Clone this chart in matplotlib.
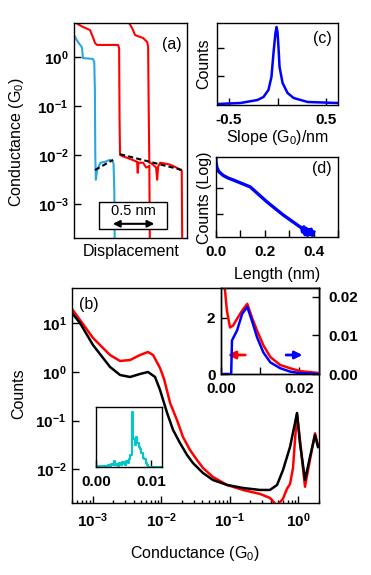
import matplotlib
matplotlib.use('Agg')
import matplotlib.pyplot as plt
import numpy as np
from matplotlib.ticker import NullLocator, LogLocator
from matplotlib.patches import Rectangle

plt.rcParams['font.family'] = ['Liberation Sans', 'DejaVu Sans']
plt.rcParams['font.weight'] = 'bold'
plt.rcParams['font.size'] = 11
plt.rcParams['mathtext.default'] = 'regular'
plt.rcParams['axes.linewidth'] = 1.0
plt.rcParams['xtick.direction'] = 'in'
plt.rcParams['ytick.direction'] = 'in'

RED = '#ff0000'
SKY = '#2aa7e0'
BLUE = '#0000ff'
TEAL = '#00c8c8'
LAB = 11.5

# --- (a) 個別トレース (nm, G0) ---
blue_x = [0.01, 0.03, 0.085, 0.095, 0.20, 0.215, 0.222, 0.226, 0.232, 0.245, 0.28, 0.33, 0.38, 0.41, 0.42, 0.428, 0.433]
blue_y = [2.6, 2.2, 1.55, 0.95, 0.91, 0.79, 0.2, 0.01, 0.0031, 0.0048, 0.0069, 0.0072, 0.0079, 0.0074, 0.0066, 0.002, 1e-4]
red1_x = [0.0, 0.04, 0.096, 0.17, 0.20, 0.223, 0.245, 0.40, 0.468, 0.479, 0.484, 0.489, 0.52, 0.564, 0.62,
          0.67, 0.677, 0.684, 0.69, 0.734, 0.766, 0.787, 0.80, 0.806]
red1_y = [5.5, 4.7, 4.1, 3.55, 2.56, 1.93, 1.76, 1.76, 1.76, 1.53, 0.05, 0.0100, 0.0093, 0.0087, 0.0079,
          0.0072, 0.0043, 0.0070, 0.0069, 0.0069, 0.0055, 0.0057, 0.006, 1e-4]
red2_x = [0.57, 0.617, 0.649, 0.702, 0.734, 0.777, 0.787, 0.793, 0.80, 0.809, 0.84, 0.872, 0.883, 0.894,
          0.915, 0.97, 1.02, 1.096, 1.128, 1.144, 1.15]
red2_y = [5.5, 3.9, 2.8, 2.56, 2.44, 2.02, 1.6, 0.1, 0.0069, 0.0069, 0.0063, 0.0055, 0.0031, 0.0058,
          0.0069, 0.0066, 0.0063, 0.0054, 0.0049, 0.0048, 1e-4]
fitb_x = [0.223, 0.415]
fitb_y = [0.0049, 0.0079]
fitr_x = [0.489, 1.149]
fitr_y = [0.0103, 0.0049]

# --- (b) ヒストグラム ---
blk_G = [4.99e-4, 6.53e-4, 1.01e-3, 1.79e-3, 2.51e-3, 3.51e-3, 4.91e-3, 6.41e-3, 8.13e-3, 9.6e-3,
         0.0122, 0.0149, 0.0188, 0.0238, 0.0291, 0.0407, 0.057, 0.0914, 0.156, 0.277, 0.387, 0.491,
         0.6, 0.759, 0.897, 0.96, 1.06, 1.256, 1.486, 1.758, 1.945]
blk_C = [16.3, 10.1, 3.58, 1.27, 0.867, 0.789, 0.91, 1.0, 0.79, 0.43,
         0.144, 0.0644, 0.0348, 0.0198, 0.0135, 0.00843, 0.00605, 0.00479, 0.00415, 0.00378, 0.00378, 0.00479,
         0.00973, 0.0288, 0.0897, 0.144, 0.0348, 0.00605, 0.018, 0.0508, 0.0288]
red_G = [4.99e-4, 6.53e-4, 1.01e-3, 1.79e-3, 2.51e-3, 3.51e-3, 4.91e-3, 6.41e-3, 7.62e-3, 9.6e-3,
         0.011, 0.0135, 0.017, 0.0208, 0.0263, 0.0333, 0.0407, 0.057, 0.0914, 0.156, 0.277, 0.387, 0.491,
         0.6, 0.685, 0.759, 0.839, 0.897, 0.96, 1.06, 1.256, 1.486, 1.758, 1.945]
red_C = [19.7, 11.7, 5.0, 2.23, 1.68, 1.76, 2.23, 2.57, 2.23, 1.21,
         0.72, 0.23, 0.103, 0.0462, 0.025, 0.0156, 0.0107, 0.00698, 0.00479, 0.00378, 0.00313, 0.00259, 0.0018,
         0.0025, 0.0040, 0.005, 0.0107, 0.04, 0.138, 0.04, 0.0044, 0.016, 0.055, 0.03]

# inset: 線形スケール
ins_red_x = [0.0006, 0.0015, 0.0023, 0.0031, 0.0041, 0.0054, 0.0067, 0.0079, 0.0092, 0.0108, 0.0126,
             0.0151, 0.0177, 0.0203, 0.0246]
ins_red_y = [3.6, 2.25, 1.65, 1.72, 1.96, 2.25, 2.49, 2.0, 1.54, 1.02, 0.6, 0.32, 0.2, 0.1, 0.04]
ins_blue_x = [0.0, 0.0026, 0.0028, 0.0041, 0.0054, 0.0067, 0.0079, 0.0092, 0.0108, 0.0126, 0.0151,
              0.0177, 0.0203, 0.025]
ins_blue_y = [0.0, 0.0, 0.0087, 0.0113, 0.0156, 0.0174, 0.0138, 0.0095, 0.0056, 0.003, 0.0015,
              0.0006, 0.0002, 0.0]

# inset: 長さ分布 (teal)
hist_w = 0.00025
hist_h = [1, 0, 1, 0, 1, 0, 1, 0, 1, 2, 1, 3, 2, 6, 2, 3, 1, 4, 2, 5, 3, 2, 6, 4, 8, 12, 55, 28, 22, 30,
          24, 20, 18, 14, 9, 8, 4, 2, 0, 0, 0, 0, 0, 0, 0, 0, 0, 0]

# --- (c) slope ---
slope_x = [-0.62, -0.38, -0.206, -0.144, -0.093, -0.062, -0.041, -0.021, -0.01, 0.0, 0.01, 0.021,
           0.052, 0.103, 0.165, 0.31, 0.62]
slope_y = [35, 70, 175, 280, 526, 982, 1825, 2526, 2737, 2561, 2035, 1333, 772, 421, 246, 105, 70]

# --- (d) length ---
len_x = [0.0, 0.0, 0.004, 0.012, 0.03, 0.05, 0.07, 0.14, 0.209, 0.275, 0.344, 0.35, 0.355, 0.36, 0.365,
         0.37, 0.375, 0.38, 0.385, 0.39, 0.395, 0.40]
len_y = [1400, 1000, 600, 420, 300, 240, 204, 110, 29, 9.2, 3.2, 3.0, 2.0, 3.2, 1.6, 2.8, 1.5, 2.5, 1.6,
         2.6, 1.5, 2.0]


def style(ax):
    ax.tick_params(which='major', length=5, width=1, pad=4)
    ax.tick_params(which='minor', length=2.5, width=1)


fig = plt.figure(figsize=(3.71, 5.75), dpi=100)
W, H = 371.0, 575.0


def box(l, t, r, b):
    return [l / W, 1 - b / H, (r - l) / W, (b - t) / H]


# (a)
axA = fig.add_axes(box(74, 23, 187, 238))
axA.set_yscale('log')
axA.plot(red1_x, red1_y, color=RED, lw=1.5)
axA.plot(red2_x, red2_y, color=RED, lw=1.5)
axA.plot(blue_x, blue_y, color=SKY, lw=1.5)
axA.plot(fitb_x, fitb_y, color='k', lw=1.5, ls=(0, (2.5, 1.5)))
axA.plot(fitr_x, fitr_y, color='k', lw=1.5, ls=(0, (2.5, 1.5)))
axA.set_xlim(0, 1.2)
axA.set_ylim(2.0e-4, 4.94)
axA.set_yticks([1e-3, 1e-2, 1e-1, 1])
axA.yaxis.set_minor_locator(NullLocator())
axA.set_xticks([])
style(axA)
axA.set_ylabel('Conductance (G$_0$)', fontweight='normal', fontsize=LAB)
axA.yaxis.set_label_coords(-0.425, 0.447)
axA.set_xlabel('Displacement', fontweight='normal', fontsize=LAB)
axA.xaxis.set_label_coords(0.504, -0.028)
axA.text(0.867, 0.902, '(a)', transform=axA.transAxes, ha='center', va='center',
         fontweight='normal', fontsize=LAB)
axA.add_patch(Rectangle((0.221, 0.042), 0.602, 0.125, transform=axA.transAxes,
                        facecolor='white', edgecolor='k', lw=1.0, zorder=5))
axA.text(0.522, 0.125, '0.5 nm', transform=axA.transAxes, ha='center', va='center',
         fontweight='normal', fontsize=LAB - 1, zorder=6)
axA.annotate('', xy=(0.883, 0.066), xytext=(0.383, 0.066), xycoords=axA.get_xaxis_transform(),
             arrowprops=dict(arrowstyle='<|-|>', color='k', lw=1.5, mutation_scale=10), zorder=6)

# (c)
axC = fig.add_axes(box(217, 23, 338, 105))
axC.plot(slope_x, slope_y, color=BLUE, lw=1.8)
axC.set_xlim(-0.62, 0.62)
axC.set_ylim(0, 2877)
axC.set_xticks([-0.5, 0, 0.5])
axC.set_xticklabels(['-0.5', '', '0.5'])
axC.set_yticks([1000, 2000])
axC.set_yticklabels([])
style(axC)
axC.tick_params(axis='x', pad=6)
axC.set_xlabel('Slope (G$_0$)/nm', fontweight='normal', fontsize=LAB)
axC.xaxis.set_label_coords(0.496, -0.28)
axC.set_ylabel('Counts', fontweight='normal', fontsize=LAB)
axC.yaxis.set_label_coords(-0.05, 0.5)
axC.text(0.868, 0.817, '(c)', transform=axC.transAxes, ha='center', va='center',
         fontweight='normal', fontsize=LAB)

# (d)
axD = fig.add_axes(box(216, 157, 338, 237))
axD.set_yscale('log')
axD.plot(len_x, len_y, color=BLUE, lw=2.4)
axD.set_xlim(0, 0.5)
axD.set_ylim(1.3, 1550)
axD.set_xticks([0, 0.1, 0.2, 0.3, 0.4, 0.5])
axD.set_xticklabels(['0.0', '', '0.2', '', '0.4', ''])
axD.set_yticks([10, 100])
axD.set_yticklabels([])
axD.yaxis.set_minor_locator(NullLocator())
style(axD)
axD.tick_params(axis='x', pad=6)
axD.set_xlabel('Length (nm)', fontweight='normal', fontsize=LAB)
axD.xaxis.set_label_coords(0.5, -0.375)
axD.set_ylabel('Counts (Log)', fontweight='normal', fontsize=LAB)
axD.yaxis.set_label_coords(-0.033, 0.49)
axD.text(0.869, 0.85, '(d)', transform=axD.transAxes, ha='center', va='center',
         fontweight='normal', fontsize=LAB)

# (b)
axB = fig.add_axes(box(72, 288, 319, 503))
axB.set_xscale('log')
axB.set_yscale('log')
axB.plot(red_G, red_C, color=RED, lw=1.8)
axB.plot(blk_G, blk_C, color='k', lw=1.8)
axB.set_xlim(4.99e-4, 2.01)
axB.set_ylim(2.04e-3, 53)
axB.set_xticks([1e-3, 1e-2, 1e-1, 1])
axB.xaxis.set_minor_locator(LogLocator(base=10, subs=np.arange(2, 10)))
axB.set_yticks([1e-2, 1e-1, 1, 10])
axB.yaxis.set_minor_locator(NullLocator())
style(axB)
axB.tick_params(axis='x', pad=6)
axB.set_xlabel('Conductance (G$_0$)', fontweight='normal', fontsize=LAB)
axB.xaxis.set_label_coords(0.498, -0.19)
axB.set_ylabel('Counts', fontweight='normal', fontsize=LAB)
axB.yaxis.set_label_coords(-0.186, 0.507)
axB.text(0.069, 0.921, '(b)', transform=axB.transAxes, ha='center', va='center',
         fontweight='normal', fontsize=LAB)

# inset (b) 右上
axI = fig.add_axes(box(221, 288, 319, 374))
axI.plot(ins_red_x, ins_red_y, color=RED, lw=1.8)
axI.set_xlim(0, 0.025)
axI.set_ylim(0, 3.05)
axI.set_xticks([0, 0.01, 0.02])
axI.set_xticklabels(['0.00', '', '0.02'])
axI.set_yticks([0, 2])
axI.set_yticklabels(['0', '2'])
style(axI)
axI.tick_params(axis='x', pad=6)
axI2 = axI.twinx()
axI2.plot(ins_blue_x, ins_blue_y, color=BLUE, lw=1.8)
axI2.set_ylim(0, 0.0223)
axI2.set_yticks([0, 0.01, 0.02])
axI2.set_yticklabels(['0.00', '0.01', '0.02'])
style(axI2)
axI2.tick_params(axis='y', pad=7)
axI.annotate('', xy=(0.04, 0.221), xytext=(0.276, 0.221), xycoords='axes fraction',
             arrowprops=dict(arrowstyle='-|>', color=RED, lw=2, mutation_scale=11))
axI.annotate('', xy=(0.86, 0.221), xytext=(0.636, 0.221), xycoords='axes fraction',
             arrowprops=dict(arrowstyle='-|>', color=BLUE, lw=2, mutation_scale=11))

# inset (b) 左下
axH = fig.add_axes(box(96, 407, 162, 467))
bin_c = (np.arange(len(hist_h)) + 0.5) * hist_w
axH.step(bin_c, hist_h, where='mid', color=TEAL, lw=1.5)
axH.set_xlim(0, 0.012)
axH.set_ylim(0, 60)
axH.set_xticks([0, 0.01])
axH.set_xticklabels(['0.00', '0.01'])
axH.set_yticks([])
style(axH)
axH.tick_params(axis='x', pad=6)

fig.savefig('out.png', dpi=100)
